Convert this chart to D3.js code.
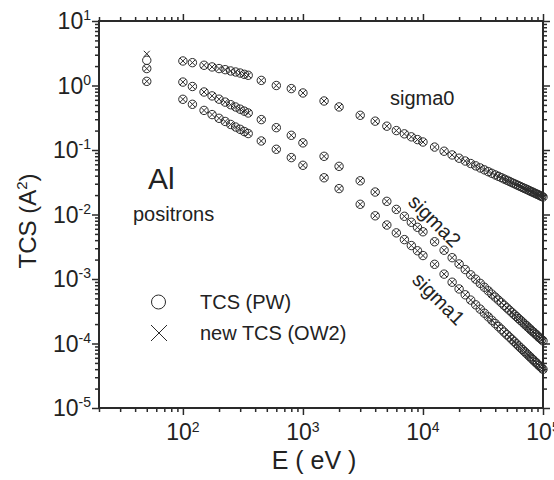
<!DOCTYPE html>
<html>
<head>
<meta charset="utf-8">
<script src="https://cdn.jsdelivr.net/npm/d3@7"></script>
<style>
  body { margin: 0; background: #fff; }
  svg { display: block; }
  text { font-family: "Liberation Sans", Arial, sans-serif; fill: #222; }
</style>
</head>
<body>
<div id="chart"></div>
<script>
  // energies (eV)
  var energies = [50, 100, 120, 150, 175, 200, 225, 250, 275, 300, 325, 350,
    450, 600, 800, 1000, 1500, 2000, 3000, 4000, 5000, 6000, 7000, 8000, 9000,
    10000, 12500, 15000, 17500, 20000, 22500, 25000, 27500, 30000, 32500, 35000,
    37500, 40000, 42500, 45000, 47500, 50000, 52500, 55000, 57500, 60000, 62500,
    65000, 67500, 70000, 72500, 75000, 77500, 80000, 82500, 85000, 87500, 90000,
    92500, 95000, 97500, 100000];

  var sigma0Pw = [2.46, 2.40, 2.26, 2.06, 1.94, 1.83, 1.76, 1.68, 1.62, 1.56, 1.49, 1.44,
    1.20, 1.00, 0.895, 0.766, 0.575, 0.465, 0.345, 0.28, 0.234, 0.20, 0.178, 0.16, 0.145,
    0.133, 0.111, 0.0957, 0.0838, 0.0746, 0.0675, 0.0617, 0.0568, 0.0527, 0.0492, 0.0461,
    0.0435, 0.0411, 0.0391, 0.0372, 0.0355, 0.0340, 0.0326, 0.0313, 0.0301, 0.0290, 0.0280,
    0.0271, 0.0262, 0.0254, 0.0247, 0.0240, 0.0233, 0.0226, 0.0221, 0.0215, 0.0210, 0.0205,
    0.0200, 0.0195, 0.0191, 0.0187];

  // OW2 only differs from PW at 50 eV for sigma0
  var sigma0Ow2 = [3.1].concat(sigma0Pw.slice(1));

  var sigma2 = [1.83, 1.13, 0.965, 0.793, 0.690, 0.614, 0.553, 0.504, 0.464, 0.429, 0.400, 0.375,
    0.296, 0.222, 0.169, 0.129, 0.0798, 0.0558, 0.0333, 0.0223, 0.0160, 0.0120, 0.00938, 0.00757, 0.00633,
    0.00540, 0.00378, 0.00279, 0.00214, 0.00171, 0.00140, 0.00116, 0.000993, 0.000855, 0.000745, 0.000656,
    0.000583, 0.000524, 0.000472, 0.000429, 0.000390, 0.000357, 0.000329, 0.000304, 0.000281, 0.000262, 0.000244,
    0.000229, 0.000215, 0.000201, 0.000190, 0.000179, 0.000169, 0.000160, 0.000152, 0.000145, 0.000138, 0.000131,
    0.000125, 0.000120, 0.000115, 0.000110];

  var sigma1 = [1.16, 0.611, 0.511, 0.411, 0.354, 0.310, 0.277, 0.249, 0.227, 0.209, 0.193, 0.180,
    0.138, 0.1026, 0.0762, 0.0579, 0.0371, 0.0252, 0.0144, 0.00955, 0.00687, 0.00519, 0.00408, 0.00330, 0.00274,
    0.00231, 0.00169, 0.00119, 0.000891, 0.000701, 0.000569, 0.000471, 0.000398, 0.000341, 0.000295, 0.000259,
    0.000229, 0.000204, 0.000183, 0.000166, 0.000150, 0.000137, 0.000126, 0.000116, 0.000107, 0.0000991, 0.0000920,
    0.0000857, 0.0000804, 0.0000752, 0.0000708, 0.0000665, 0.0000628, 0.0000593, 0.0000561, 0.0000532, 0.0000505, 0.0000481,
    0.0000457, 0.0000437, 0.0000417, 0.0000398];

  var xTickExps = [2, 3, 4, 5];
  var yTickExps = [1, 0, -1, -2, -3, -4, -5];

  var width = 554, height = 480;
  var margin = {top: 21, right: 11, bottom: 72, left: 99};
  var w = width - margin.left - margin.right;
  var h = height - margin.top - margin.bottom;
  var ink = "#2a2a2a";

  var x = d3.scaleLog().domain([20, 1e5]).range([0, w]);
  var y = d3.scaleLog().domain([1e-5, 10]).range([h, 0]);

  function minorTicks(lo, hi) {
    var out = [];
    for (var e = Math.floor(Math.log10(lo)); e <= Math.ceil(Math.log10(hi)); e++) {
      for (var k = 2; k <= 9; k++) {
        var v = k * Math.pow(10, e);
        if (v >= lo && v <= hi) out.push(v);
      }
    }
    return out;
  }

  var svg = d3.select("#chart").append("svg")
    .attr("width", width)
    .attr("height", height);

  var g = svg.append("g")
    .attr("transform", "translate(" + margin.left + "," + margin.top + ")");

  var xMajor = xTickExps.map(function(e) { return Math.pow(10, e); });
  var yMajor = yTickExps.map(function(e) { return Math.pow(10, e); });
  var xMinor = minorTicks(20, 1e5);
  var yMinor = minorTicks(1e-5, 10);

  // axes: ticks outward on all four sides
  function drawAxis(axisFn, scale, ticks, size, transform) {
    var a = g.append("g")
      .attr("transform", transform || null)
      .call(axisFn(scale).tickValues(ticks).tickSize(size).tickFormat(""));
    a.select(".domain").remove();
    a.selectAll("line").attr("stroke", ink).attr("stroke-width", 1.5);
  }

  drawAxis(d3.axisBottom, x, xMinor, 4, "translate(0," + h + ")");
  drawAxis(d3.axisBottom, x, xMajor, 7, "translate(0," + h + ")");
  drawAxis(d3.axisTop, x, xMinor, 4);
  drawAxis(d3.axisTop, x, xMajor, 7);
  drawAxis(d3.axisLeft, y, yMinor, 4);
  drawAxis(d3.axisLeft, y, yMajor, 7);
  drawAxis(d3.axisRight, y, yMinor, 4, "translate(" + w + ",0)");
  drawAxis(d3.axisRight, y, yMajor, 7, "translate(" + w + ",0)");

  g.append("rect")
    .attr("width", w)
    .attr("height", h)
    .attr("fill", "none")
    .attr("stroke", ink)
    .attr("stroke-width", 2);

  // tick labels 10^n
  var xl = g.append("g").selectAll("text").data(xTickExps).enter()
    .append("text")
    .attr("x", function(d) { return x(Math.pow(10, d)); })
    .attr("y", h + 32)
    .attr("text-anchor", "middle")
    .style("font-size", "23px");
  xl.append("tspan").text("10");
  xl.append("tspan").attr("dy", -8).style("font-size", "14px").text(function(d) { return d; });

  var yl = g.append("g").selectAll("text").data(yTickExps).enter()
    .append("text")
    .attr("x", -8)
    .attr("y", function(d) { return y(Math.pow(10, d)) + 8; })
    .attr("text-anchor", "end")
    .style("font-size", "23px");
  yl.append("tspan").text("10");
  yl.append("tspan").attr("dy", -9).style("font-size", "14px").text(function(d) { return d; });

  // axis titles
  svg.append("text")
    .attr("x", 314)
    .attr("y", 469)
    .attr("text-anchor", "middle")
    .style("font-size", "25px")
    .text("E ( eV )");

  var yt = svg.append("text")
    .attr("transform", "translate(36,221) rotate(-90)")
    .attr("text-anchor", "middle")
    .style("font-size", "24px");
  yt.append("tspan").text("TCS (A");
  yt.append("tspan").attr("dy", -9).style("font-size", "15px").text("2");
  yt.append("tspan").attr("dy", 9).text(")");

  // markers
  var crossPath = "M-3,-3L3,3M-3,3L3,-3";
  var series = [
    {pw: sigma0Pw, ow2: sigma0Ow2},
    {pw: sigma2, ow2: sigma2},
    {pw: sigma1, ow2: sigma1}
  ];

  series.forEach(function(s) {
    var sg = g.append("g");
    sg.selectAll("circle").data(s.pw).enter()
      .append("circle")
      .attr("cx", function(d, i) { return x(energies[i]); })
      .attr("cy", function(d) { return y(d); })
      .attr("r", 4.2)
      .attr("fill", "none")
      .attr("stroke", ink)
      .attr("stroke-width", 1);
    sg.selectAll("path").data(s.ow2).enter()
      .append("path")
      .attr("d", crossPath)
      .attr("transform", function(d, i) { return "translate(" + x(energies[i]) + "," + y(d) + ")"; })
      .attr("fill", "none")
      .attr("stroke", ink)
      .attr("stroke-width", 1);
  });

  // curve labels
  g.append("text")
    .attr("x", 390 - margin.left)
    .attr("y", 105 - margin.top)
    .style("font-size", "20px")
    .text("sigma0");
  g.append("text")
    .attr("transform", "translate(" + (407 - margin.left) + "," + (203 - margin.top) + ") rotate(45)")
    .style("font-size", "20px")
    .text("sigma2");
  g.append("text")
    .attr("transform", "translate(" + (411 - margin.left) + "," + (281 - margin.top) + ") rotate(45)")
    .style("font-size", "20px")
    .text("sigma1");

  // annotations
  svg.append("text")
    .attr("x", 148)
    .attr("y", 189)
    .style("font-size", "30px")
    .text("Al");
  svg.append("text")
    .attr("x", 133)
    .attr("y", 221)
    .style("font-size", "20px")
    .text("positrons");

  // legend
  var legend = svg.append("g");
  legend.append("circle")
    .attr("cx", 158.5)
    .attr("cy", 302)
    .attr("r", 7)
    .attr("fill", "none")
    .attr("stroke", ink)
    .attr("stroke-width", 1);
  legend.append("path")
    .attr("d", "M-8,-8L8,8M-8,8L8,-8")
    .attr("transform", "translate(159,333)")
    .attr("fill", "none")
    .attr("stroke", ink)
    .attr("stroke-width", 1);
  legend.append("text")
    .attr("x", 200)
    .attr("y", 309)
    .style("font-size", "20px")
    .text("TCS (PW)");
  legend.append("text")
    .attr("x", 200)
    .attr("y", 340)
    .style("font-size", "20px")
    .text("new TCS (OW2)");
</script>
</body>
</html>
